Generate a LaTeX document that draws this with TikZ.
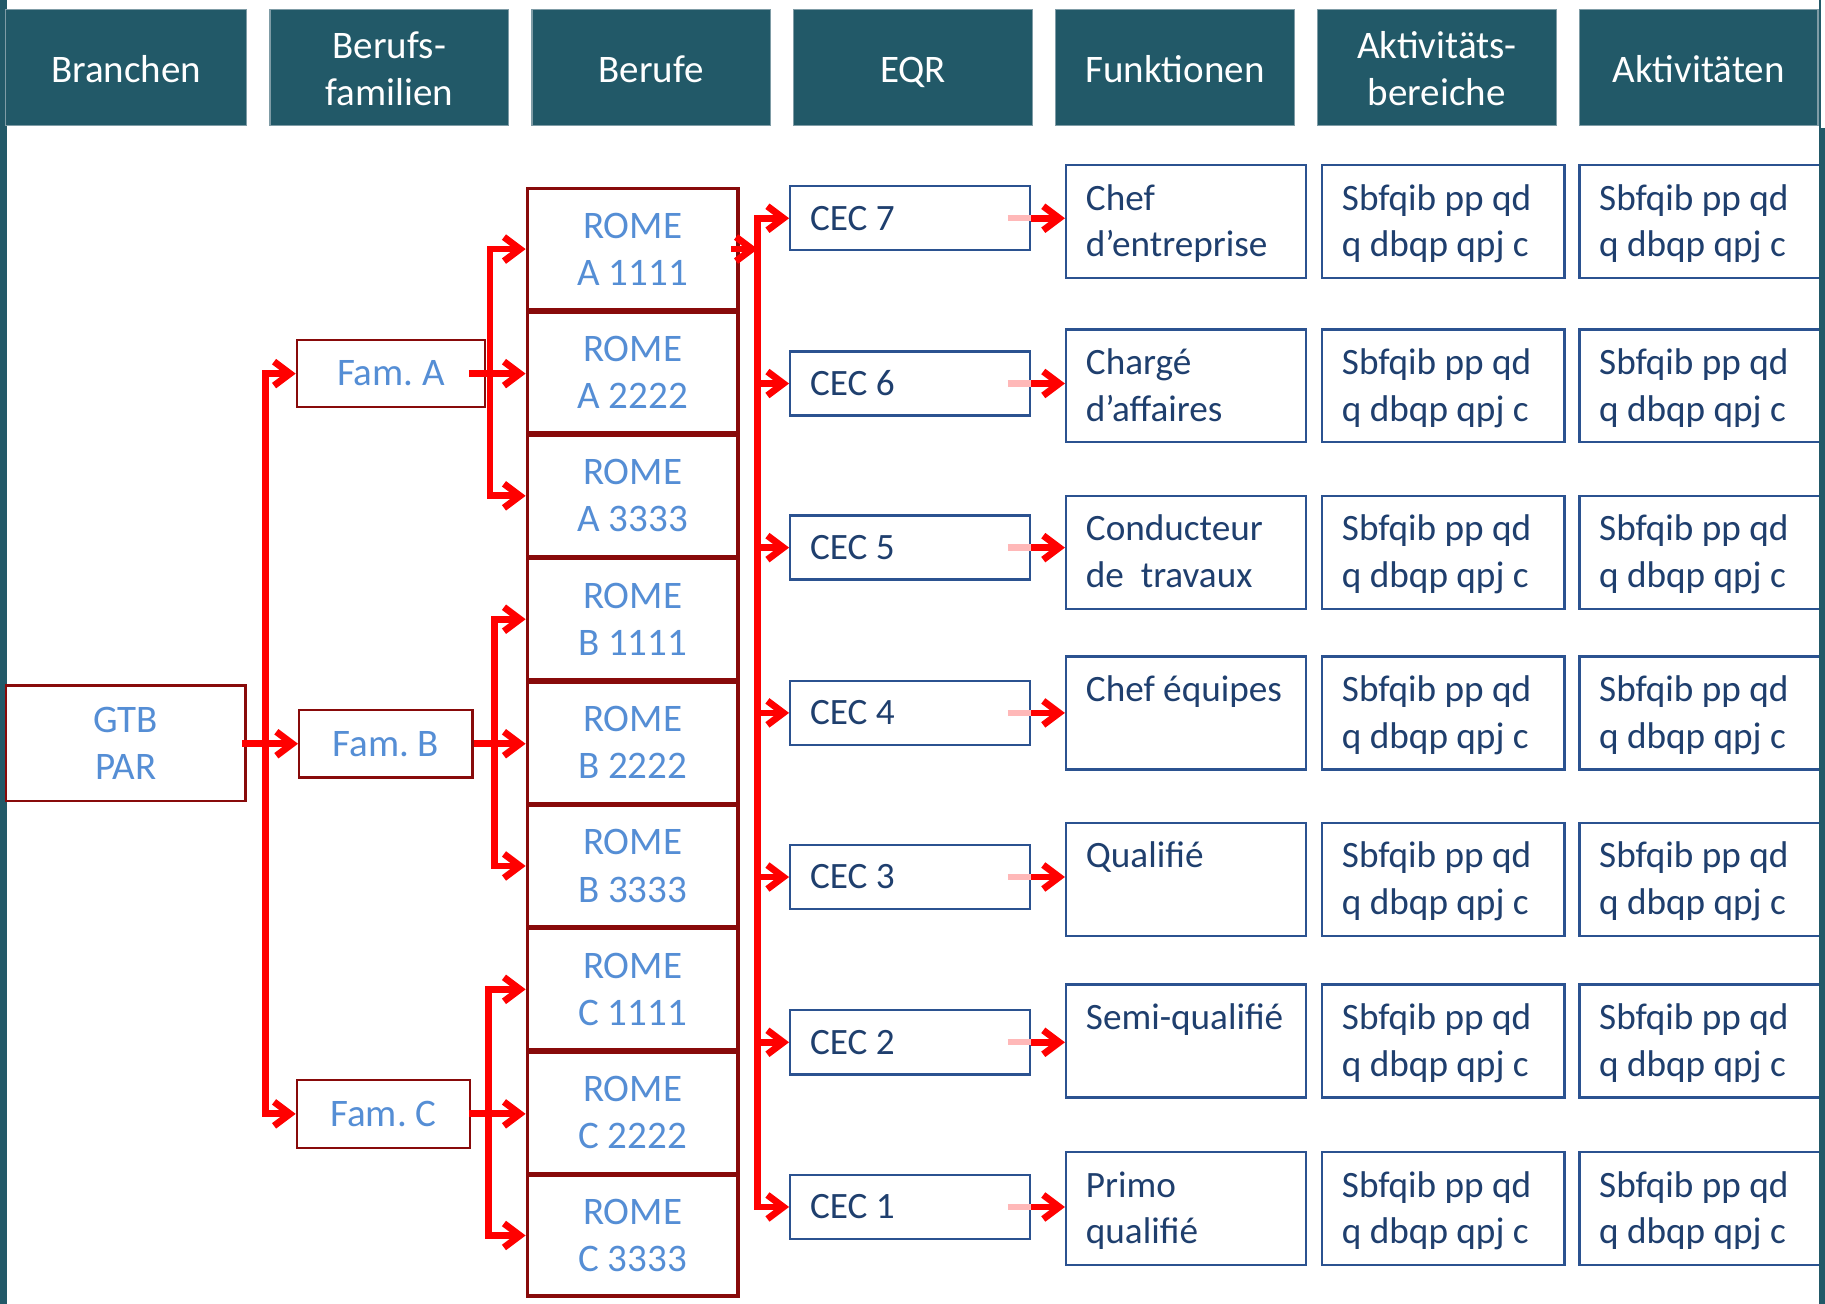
\documentclass[tikz,border=0pt]{standalone}
\usepackage{fontspec}
\setmainfont{Carlito}
\frenchspacing
\usetikzlibrary{arrows.meta}
\definecolor{hdr}{HTML}{225968}
\definecolor{hdredge}{HTML}{7F9CA6}
\definecolor{boxred}{HTML}{880A0A}
\definecolor{txtblue}{HTML}{558ED5}
\definecolor{boxblue}{HTML}{2B5290}
\definecolor{txtnavy}{HTML}{1F3F6E}
\definecolor{arrred}{HTML}{FF0000}
\newcommand\myu{0.582pt}
\newcommand\bigf{\fontsize{19.5pt}{23.6pt}\selectfont}
\newcommand\smf{\fontsize{18.6pt}{22.3pt}\selectfont}
\newcommand\fstrut{\rule[-6.7pt]{0pt}{25.3pt}}
\begin{document}
\begin{tikzpicture}[x=0.582pt,y=-0.582pt,
  hdrbox/.style={fill=hdr, draw=hdredge, line width=0.6pt,
    minimum width=205*\myu, minimum height=100*\myu, inner sep=0pt},
  hdrtext/.style={text=white, font=\bigf, align=center, inner sep=0pt},
  redbox/.style={draw=boxred, line width=1.1pt, fill=white, text=txtblue, font=\bigf, align=center, inner sep=0pt},
  romebox/.style={redbox, line width=1.6pt, minimum width=181*\myu, minimum height=104*\myu},
  cecbox/.style={draw=boxblue, line width=1.2pt, fill=white, text=txtnavy, font=\smf, align=left,
    text width=172*\myu, inner xsep=17*\myu, inner ysep=0pt, minimum height=55*\myu,
    execute at begin node={\spaceskip=0pt\relax\xspaceskip=0pt\relax}},
  funbox/.style={cecbox, minimum height=97*\myu},
  aktbox/.style={funbox, text width=174*\myu},
  aktboxr/.style={funbox, text width=177*\myu},
  arr/.style={draw=arrred, line width=3.4pt, -{Straight Barb[length=8pt, width=12pt]}},
  pinkl/.style={draw=red!28, line width=3.2pt},
  framebar/.style={fill=hdr, draw=none}
]
\fill[white] (0,0) rectangle (1568,1120);
\useasboundingbox (0,0) rectangle (1568,1120);
% left frame bar
\fill[framebar] (0,0) rectangle (6,1120);

% headers
\node[hdrbox, minimum width=207*\myu] (hBr) at (108.5,58) {};
\node[hdrbox] (hBf) at (334.5,58) {};
\node[hdrbox] (hBe) at (559.5,58) {};
\node[hdrbox] (hEQ) at (784.5,58) {};
\node[hdrbox] (hFu) at (1009.5,58) {};
\node[hdrbox] (hAb) at (1234.5,58) {};
\node[hdrbox] (hAk) at (1459.5,58) {};
\node[hdrtext] (tBr) at ([yshift=-2.6pt]hBr.center) {\strut Branchen};
\node[hdrtext] (tBf) at ([yshift=-2.6pt]hBf.center) {\strut Berufs-\\\strut familien};
\node[hdrtext] (tBe) at ([yshift=-2.6pt]hBe.center) {\strut Berufe};
\node[hdrtext] (tEQ) at ([yshift=-2.6pt]hEQ.center) {\strut EQR};
\node[hdrtext] (tFu) at ([yshift=-2.6pt]hFu.center) {\strut Funktionen};
\node[hdrtext] (tAb) at ([yshift=-2.6pt]hAb.center) {\strut Aktivitäts-\\\strut bereiche};
\node[hdrtext] (tAk) at ([yshift=-2.6pt]hAk.center) {\strut Aktivitäten};

% Branchen / Familien
\node[redbox, minimum width=206*\myu, minimum height=99*\myu] (gtb) at (108,638.5) {GTB\\PAR};
\node[redbox, minimum width=162*\myu, minimum height=58*\myu] (famA) at (336,321) {Fam. A};
\node[redbox, minimum width=149*\myu, minimum height=58*\myu] (famB) at (331.5,639) {Fam. B};
\node[redbox, minimum width=149*\myu, minimum height=58*\myu] (famC) at (329.5,957) {Fam. C};

% ROME
\node[romebox] (rA1) at (543.5,214) {ROME\\A 1111};
\node[romebox] (rA2) at (543.5,320) {ROME\\A 2222};
\node[romebox] (rA3) at (543.5,426) {ROME\\A 3333};
\node[romebox] (rB1) at (543.5,532) {ROME\\B 1111};
\node[romebox] (rB2) at (543.5,638) {ROME\\B 2222};
\node[romebox] (rB3) at (543.5,744) {ROME\\B 3333};
\node[romebox] (rC1) at (543.5,850) {ROME\\C 1111};
\node[romebox] (rC2) at (543.5,956) {ROME\\C 2222};
\node[romebox] (rC3) at (543.5,1061.5) {ROME\\C 3333};

% CEC
\node[cecbox] (c7) at (782,187.5) {CEC 7};
\node[cecbox] (c6) at (782,329.5) {CEC 6};
\node[cecbox] (c5) at (782,470.5) {CEC 5};
\node[cecbox] (c4) at (782,612.5) {CEC 4};
\node[cecbox] (c3) at (782,753.5) {CEC 3};
\node[cecbox] (c2) at (782,895.5) {CEC 2};
\node[cecbox] (c1) at (782,1037) {CEC 1};

% Funktionen
\node[funbox] (f1) at (1019,190.5) {\fstrut Chef\\\strut d’entreprise};
\node[funbox] (f2) at (1019,331.5) {\fstrut Chargé\\\strut d’affaires};
\node[funbox] (f3) at (1019,474.5) {\fstrut Conducteur\\\strut de~ travaux};
\node[funbox] (f4) at (1019,612.5) {\fstrut Chef équipes\\\strut};
\node[funbox] (f5) at (1019,755.5) {\fstrut Qualifié\\\strut};
\node[funbox] (f6) at (1019,894.5) {\fstrut Semi-qualifié\\\strut};
\node[funbox] (f7) at (1019,1038.5) {\fstrut Primo\\\strut qualifié};

% Aktivitaetsbereiche / Aktivitaeten
\foreach \n/\yy in {1/190.5,2/331.5,3/474.5,4/612.5,5/755.5,6/894.5,7/1038.5}{
  \node[aktbox] (ab\n) at (1240,\yy) {\fstrut Sbfqib pp qd\\\strut q dbqp qpj c};
  \node[aktboxr] (ak\n) at (1462.5,\yy) {\fstrut Sbfqib pp qd\\\strut q dbqp qpj c};
}

% bus coordinates
\coordinate (bL) at (228,0);
\coordinate (bA) at (421,0);
\coordinate (bB) at (425,0);
\coordinate (bC) at (420,0);
\coordinate (bus) at (651,0);

% left tree
\draw[arr] ([xshift=-4*\myu]gtb.east |- famB.west) -- (famB.west);
\draw[arr] (bL |- famB.west) |- (famA.west);
\draw[arr] (bL |- famB.west) |- (famC.west);

% Fam A
\draw[arr] ([xshift=-15*\myu]famA.east) -- (rA2.west |- famA.east);
\draw[arr] (bA |- famA.east) |- (rA1.west);
\draw[arr] (bA |- famA.east) |- (rA3.west);
% Fam B
\draw[arr] (famB.east) -- (rB2.west |- famB.east);
\draw[arr] (bB |- famB.east) |- (rB1.west);
\draw[arr] (bB |- famB.east) |- (rB3.west);
% Fam C
\draw[arr] ([xshift=-2*\myu]famC.east) -- (rC2.west |- famC.east);
\draw[arr] (bC |- famC.east) |- (rC1.west);
\draw[arr] (bC |- famC.east) |- (rC3.west);

% ROME -> EQR bus
\draw[arr] ([xshift=-7*\myu]rA1.east) -- (bus |- rA1.east);
\draw[arr] (bus |- c4.west) |- (c7.west);
\draw[arr] (bus |- c4.west) |- (c1.west);
\foreach \c in {c6,c5,c4,c3,c2}{
  \draw[arr] (bus |- \c.west) -- (\c.west);
}

% CEC -> Funktionen
\foreach \c/\f in {c7/f1,c6/f2,c5/f3,c4/f4,c3/f5,c2/f6,c1/f7}{
  \draw[pinkl] ([xshift=-20*\myu]\c.east) -- (\c.east);
  \draw[arr] (\c.east) -- (\f.west |- \c.east);
}

% right frame
\fill[framebar] (1562.5,0) rectangle (1564.5,110);
\fill[framebar] (1563,110) rectangle (1568,1120);
\end{tikzpicture}
\end{document}
